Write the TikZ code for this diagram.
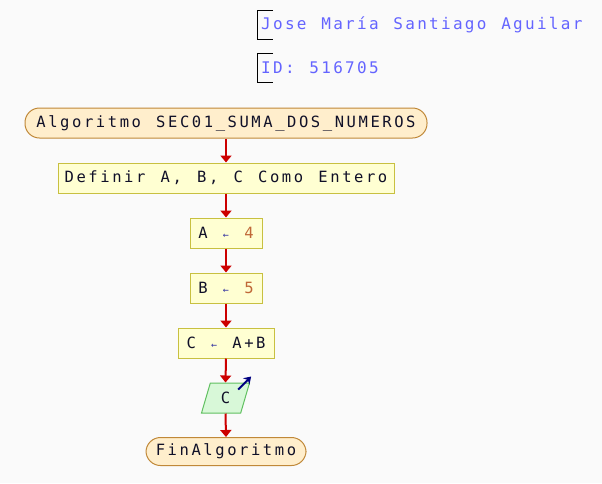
\documentclass[tikz,border=0pt]{standalone}
\usepackage{fontspec}
\usetikzlibrary{arrows.meta,shapes.geometric}
\newfontfamily\flowfont[LetterSpace=16.6,WordSpace=1.28]{DejaVu Sans Mono}
\newfontfamily\headfont[LetterSpace=14.3,WordSpace=1.24]{DejaVu Sans Mono}
\definecolor{bgc}{HTML}{FAFAFA}
\definecolor{termfill}{HTML}{FFEECC}
\definecolor{termdraw}{HTML}{C08838}
\definecolor{procfill}{HTML}{FFFFD2}
\definecolor{procdraw}{HTML}{C8C040}
\definecolor{iofill}{HTML}{D8F8D8}
\definecolor{iodraw}{HTML}{60C060}
\definecolor{flowred}{HTML}{CC0000}
\definecolor{headblue}{HTML}{6464FF}
\definecolor{txt}{HTML}{101028}
\definecolor{arrblue}{HTML}{3030A0}
\definecolor{numc}{HTML}{C06838}
\definecolor{outnavy}{HTML}{000080}
\tikzset{
  term/.style={draw=termdraw, fill=termfill, line width=1pt, rounded corners=14.5pt,
    minimum height=30pt, inner sep=0pt, font=\flowfont\fontsize{15.5}{16}\selectfont, text=txt},
  proc/.style={draw=procdraw, fill=procfill, line width=1pt,
    minimum height=30pt, inner sep=0pt, font=\flowfont\fontsize{15.5}{16}\selectfont, text=txt},
  io/.style={draw=iodraw, fill=iofill, line width=1pt, trapezium, trapezium stretches=true,
    trapezium left angle=77, trapezium right angle=103,
    minimum height=30pt, minimum width=48pt, inner sep=0pt, font=\flowfont\fontsize{15.5}{16}\selectfont, text=txt},
  flow/.style={draw=flowred, line width=2pt, -{Triangle[width=11pt,length=7pt]}},
  head/.style={anchor=west, inner sep=0pt, text=headblue, font=\headfont\fontsize{16}{17}\selectfont},
  bracket/.style={draw=black, line width=1pt}
}
\newcommand{\asg}{{\color{arrblue}\fontsize{10}{11}\selectfont ←}}
\begin{document}
\begin{tikzpicture}[x=1pt,y=-1pt]
\fill[bgc] (0,0) rectangle (602,483);
\useasboundingbox (0,0) rectangle (602,483);
% header
\draw[bracket] (273,10.5) -- (257.5,10.5) -- (257.5,39.5) -- (273,39.5);
\node[head] (name) at (261,25) {Jose María Santiago Aguilar};
\draw[bracket] (273,53.5) -- (257.5,53.5) -- (257.5,82.5) -- (273,82.5);
\node[head] (id) at (261,68) {ID: 516705};
% flowchart
\node[term, minimum width=402pt] (start) at (226,123) {Algoritmo SEC01\_SUMA\_DOS\_NUMEROS};
\node[proc, minimum width=336pt] (def) at (226,178) {Definir A, B, C Como Entero};
\node[proc, minimum width=72pt] (a) at (226,233) {A \asg{} {\color{numc}4}};
\node[proc, minimum width=72pt] (b) at (226,288) {B \asg{} {\color{numc}5}};
\node[proc, minimum width=96pt] (c) at (226,343) {C \asg{} A+B};
\node[io] (out) at (225.5,398) {C};
\node[term, minimum width=160pt, minimum height=28pt] (fin) at (226,451.5) {FinAlgoritmo};
\draw[flow] (start.south) -- (def.north);
\draw[flow] (def.south) -- (a.north);
\draw[flow] (a.south) -- (b.north);
\draw[flow] (b.south) -- (c.north);
\draw[flow] (c.south) -- (out.north);
\draw[flow] (out.south) -- (fin.north);
\coordinate (o1) at ([xshift=-12pt,yshift=-7pt]out.top right corner);
\coordinate (o2) at ([xshift=1pt,yshift=6pt]out.top right corner);
\draw[outnavy, line width=2pt, -{Stealth[width=9pt,length=7pt]}] (o1) -- (o2);
\end{tikzpicture}
\end{document}
